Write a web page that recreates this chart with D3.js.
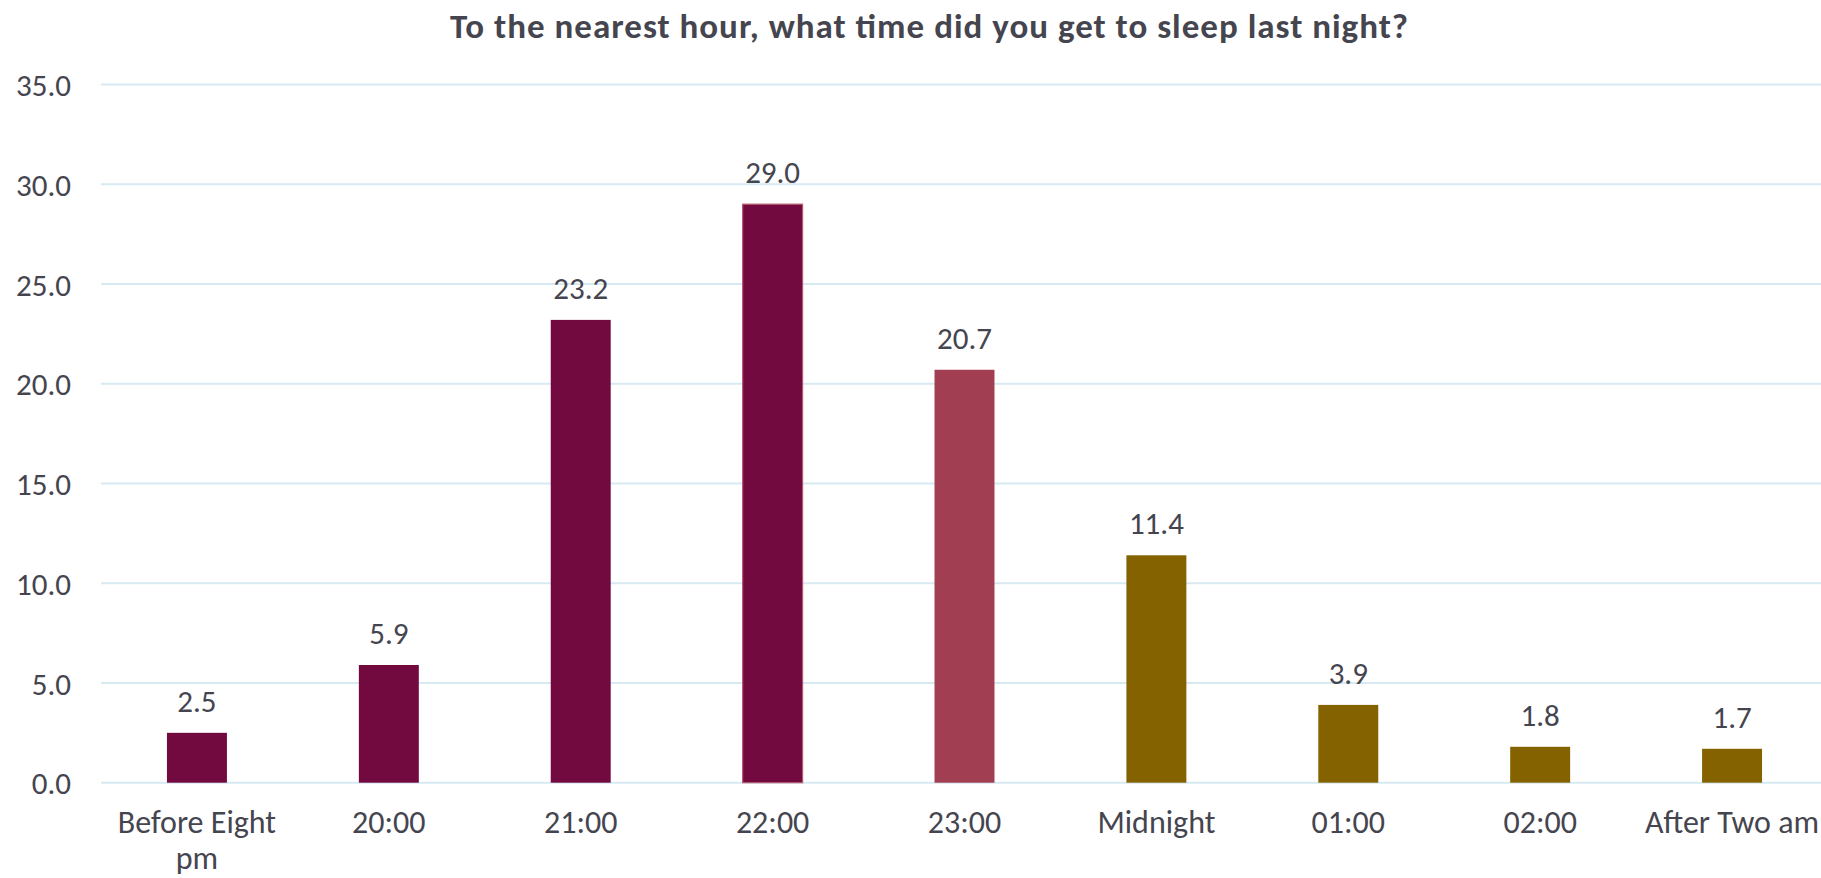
<!DOCTYPE html>
<html>
<head>
<meta charset="utf-8">
<script src="https://cdn.jsdelivr.net/npm/d3@7"></script>
<style>
  html, body { margin: 0; padding: 0; background: #ffffff; }
  svg { display: block; }
  text { font-family: Carlito, Lato, "Open Sans", sans-serif; fill: #45454f; }
</style>
</head>
<body>
<svg id="chart" width="1821" height="878"></svg>
<script>
// Survey responses: percentage of respondents by bedtime
const categories = ["Before Eight pm", "20:00", "21:00", "22:00", "23:00", "Midnight", "01:00", "02:00", "After Two am"];
const values = [2.5, 5.9, 23.2, 29.0, 20.7, 11.4, 3.9, 1.8, 1.7];
const barColors = ["#720a40", "#720a40", "#720a40", "#720a40", "#a23e51", "#846200", "#846200", "#846200", "#846200"];
const yTicks = [0, 5, 10, 15, 20, 25, 30, 35];
const title = "To the nearest hour, what time did you get to sleep last night?";

const W = 1821, H = 878;
const plot = { left: 101, right: 1828, top: 84.5, bottom: 782.7 };

const svg = d3.select("#chart");

const x = d3.scaleBand()
  .domain(categories)
  .range([plot.left, plot.right])
  .paddingInner(0.6875)
  .paddingOuter(0.34375);

const y = d3.scaleLinear()
  .domain([0, 35])
  .range([plot.bottom, plot.top]);

// Horizontal gridlines (the 0 line doubles as the baseline)
svg.append("g")
  .selectAll("line")
  .data(yTicks)
  .join("line")
  .attr("x1", plot.left)
  .attr("x2", W)
  .attr("y1", d => y(d))
  .attr("y2", d => y(d))
  .attr("stroke", "#d7eaf1")
  .attr("stroke-width", 2);

// Y axis labels
const yAxis = d3.axisLeft(y).tickValues(yTicks).tickFormat(d3.format(".1f")).tickSize(0).tickPadding(0);
const yg = svg.append("g")
  .attr("transform", `translate(71,0)`)
  .call(yAxis);
yg.select(".domain").remove();
yg.selectAll("text")
  .attr("font-size", 31)
  .attr("fill", "#45454f")
  .attr("font-family", "Carlito, Lato, sans-serif")
  .attr("dy", "0.36em");

// Bars
svg.append("g")
  .selectAll("rect")
  .data(categories)
  .join("rect")
  .attr("x", d => x(d))
  .attr("width", x.bandwidth())
  .attr("y", (d, i) => y(values[i]))
  .attr("height", (d, i) => y(0) - y(values[i]))
  .attr("fill", (d, i) => barColors[i])
  .attr("stroke", (d, i) => d === "22:00" ? "#b45a70" : "none")
  .attr("stroke-width", 1.2);

// Value labels above bars
svg.append("g")
  .selectAll("text")
  .data(categories)
  .join("text")
  .attr("x", d => x(d) + x.bandwidth() / 2)
  .attr("y", (d, i) => y(values[i]) - 21)
  .attr("text-anchor", "middle")
  .attr("font-size", 31)
  .text((d, i) => d3.format(".1f")(values[i]));

// Category axis labels, wrapped to the band step
const xAxis = d3.axisBottom(x).tickSize(0).tickPadding(0);
const xg = svg.append("g")
  .attr("transform", `translate(0,${plot.bottom})`)
  .call(xAxis);
xg.select(".domain").remove();
xg.selectAll("text")
  .attr("font-size", 32)
  .attr("fill", "#45454f")
  .attr("font-family", "Carlito, Lato, sans-serif")
  .attr("y", 0)
  .attr("dy", 0)
  .each(function () { wrap(d3.select(this), x.step() - 4); });

function wrap(textSel, width) {
  const words = textSel.text().split(/\s+/);
  textSel.text(null);
  const lineHeight = 36;
  const baseY = 50.5;
  let line = [];
  let lineNo = 0;
  let tspan = textSel.append("tspan").attr("x", 0).attr("y", baseY);
  for (const w of words) {
    line.push(w);
    tspan.text(line.join(" "));
    if (tspan.node().getComputedTextLength() > width && line.length > 1) {
      line.pop();
      tspan.text(line.join(" "));
      line = [w];
      lineNo += 1;
      tspan = textSel.append("tspan").attr("x", 0).attr("y", baseY + lineNo * lineHeight).text(w);
    }
  }
}

// Title
svg.append("text")
  .attr("x", 929)
  .attr("y", 38)
  .attr("text-anchor", "middle")
  .attr("font-size", 35)
  .attr("font-weight", "bold")
  .attr("textLength", 958)
  .attr("lengthAdjust", "spacing")
  .text(title);
</script>
</body>
</html>
